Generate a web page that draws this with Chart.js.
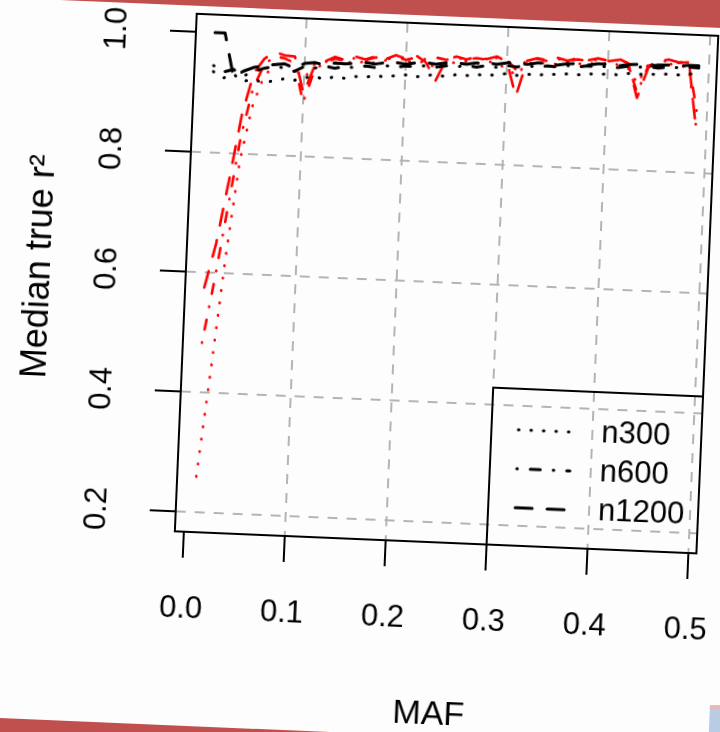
<!DOCTYPE html>
<html>
<head>
<meta charset="utf-8">
<title>Median true r2 by MAF</title>
<script src="https://cdn.jsdelivr.net/npm/chart.js@4.4.1/dist/chart.umd.min.js"></script>
<style>
  html, body { margin: 0; padding: 0; background: #fdfdfd; overflow: hidden; width: 720px; height: 732px; }
  /* the whole slide sits slightly tilted */
  #slide { position: absolute; left: 0; top: 0; width: 720px; height: 732px;
           transform: rotate(2.42deg); transform-origin: 360px 366px; }
  .bar { position: absolute; background: #c0504d; }
  #bar-top { left: -140px; top: -60px; width: 1000px; height: 73px; }
  #bar-bottom { left: -140px; top: 733px; width: 1000px; height: 60px; }
  #corner { position: absolute; left: 724px; top: 690px; width: 80px; height: 80px;
            background: #b9cce4; border-top: 4px solid #e6b9b8; }
  canvas { position: absolute; left: 0; top: 0; }
</style>
</head>
<body>
<div id="slide">
  <div class="bar" id="bar-top"></div>
  <div class="bar" id="bar-bottom"></div>
  <div id="corner"></div>
  <canvas id="chart" width="720" height="732"></canvas>
</div>
<script>
// ---- data ----------------------------------------------------------
const maf = [0.01, 0.02, 0.03, 0.04, 0.05, 0.06, 0.07, 0.08, 0.09, 0.10,
             0.11, 0.12, 0.13, 0.14, 0.15, 0.16, 0.17, 0.18, 0.19, 0.20,
             0.21, 0.22, 0.23, 0.24, 0.25, 0.26, 0.27, 0.28, 0.29, 0.30,
             0.31, 0.32, 0.33, 0.34, 0.35, 0.36, 0.37, 0.38, 0.39, 0.40,
             0.41, 0.42, 0.43, 0.44, 0.45, 0.46, 0.47, 0.48, 0.49];

// black curves
const blackN300 = [0.935, 0.925, 0.932, 0.921, 0.925, 0.920, 0.924, 0.928, 0.926, 0.931,
                   0.934, 0.930, 0.935, 0.933, 0.937, 0.936, 0.940, 0.938, 0.941, 0.943,
                   0.940, 0.944, 0.945, 0.943, 0.947, 0.946, 0.949, 0.947, 0.950, 0.952,
                   0.950, 0.953, 0.951, 0.955, 0.954, 0.956, 0.955, 0.958, 0.957, 0.959,
                   0.958, 0.961, 0.960, 0.962, 0.961, 0.963, 0.962, 0.965, 0.964];
const blackN600 = [0.945, 0.935, 0.940, 0.930, 0.938, 0.944, 0.948, 0.946, 0.941, 0.950,
                   0.948, 0.952, 0.949, 0.953, 0.951, 0.955, 0.953, 0.957, 0.955, 0.958,
                   0.957, 0.960, 0.958, 0.961, 0.960, 0.963, 0.961, 0.964, 0.962, 0.966,
                   0.964, 0.967, 0.965, 0.968, 0.967, 0.970, 0.968, 0.971, 0.969, 0.972,
                   0.970, 0.973, 0.972, 0.974, 0.972, 0.975, 0.974, 0.976, 0.975];
const blackN1200 = [1.000, 1.000, 0.928, 0.938, 0.945, 0.948, 0.951, 0.953, 0.946, 0.955,
                    0.957, 0.954, 0.958, 0.957, 0.959, 0.961, 0.959, 0.962, 0.963, 0.961,
                    0.964, 0.965, 0.963, 0.966, 0.967, 0.965, 0.968, 0.969, 0.967, 0.970,
                    0.971, 0.969, 0.972, 0.972, 0.970, 0.973, 0.974, 0.972, 0.975, 0.975,
                    0.973, 0.976, 0.977, 0.975, 0.977, 0.978, 0.976, 0.979, 0.979];

// red curves
const redN300 = [0.260, 0.440, 0.630, 0.790, 0.880, 0.930, 0.950, 0.955, 0.945, 0.930,
                 0.955, 0.960, 0.955, 0.962, 0.957, 0.964, 0.960, 0.966, 0.962, 0.967,
                 0.963, 0.968, 0.955, 0.968, 0.966, 0.970, 0.967, 0.971, 0.969, 0.960,
                 0.950, 0.972, 0.970, 0.974, 0.971, 0.975, 0.973, 0.976, 0.974, 0.977,
                 0.975, 0.970, 0.945, 0.978, 0.976, 0.980, 0.978, 0.975, 0.875];
const redN600 = [0.483, 0.590, 0.710, 0.830, 0.910, 0.950, 0.965, 0.962, 0.955, 0.890,
                 0.945, 0.958, 0.965, 0.962, 0.968, 0.965, 0.970, 0.967, 0.972, 0.968,
                 0.973, 0.970, 0.974, 0.971, 0.975, 0.973, 0.976, 0.974, 0.978, 0.975,
                 0.958, 0.977, 0.979, 0.976, 0.980, 0.978, 0.981, 0.979, 0.982, 0.980,
                 0.983, 0.975, 0.930, 0.975, 0.983, 0.985, 0.982, 0.984, 0.900];
const redN1200 = [0.575, 0.650, 0.755, 0.865, 0.935, 0.960, 0.972, 0.967, 0.966, 0.905,
                  0.952, 0.960, 0.968, 0.963, 0.970, 0.966, 0.972, 0.968, 0.975, 0.970,
                  0.976, 0.965, 0.935, 0.972, 0.977, 0.973, 0.978, 0.975, 0.980, 0.972,
                  0.915, 0.975, 0.980, 0.977, 0.982, 0.978, 0.983, 0.980, 0.984, 0.981,
                  0.985, 0.978, 0.921, 0.972, 0.984, 0.987, 0.983, 0.985, 0.870];

const xTicks = [0.0, 0.1, 0.2, 0.3, 0.4, 0.5];
const yTicks = [0.2, 0.4, 0.6, 0.8, 1.0];
const legendLabels = ["n300", "n600", "n1200"];

// ---- line styles (R lty look-alikes) -------------------------------
const DOTTED = [0.5, 12];
const DOTDASH = [0.5, 13, 10, 13];
const DASHED = [17, 15];
const FONT = '"Liberation Sans", Arial, sans-serif';

function series(values, color, dash, width) {
  return {
    data: maf.map((x, i) => ({ x: x, y: values[i] })),
    borderColor: color,
    borderWidth: width,
    borderDash: dash,
    borderCapStyle: "round",
    borderJoinStyle: "round",
    pointRadius: 0,
    tension: 0,
    fill: false,
  };
}

// legend box in the bottom-right corner plus the frame around the plot
const boxLegend = {
  id: "boxLegend",
  afterDraw(chart) {
    const { ctx, chartArea: a } = chart;
    const w = 210, h = 157;
    const left = a.right - w, top = a.bottom - h;
    ctx.save();
    ctx.strokeStyle = "#000";
    ctx.lineWidth = 2;
    ctx.strokeRect(left, top, w, h);
    ctx.font = "31px " + FONT;
    ctx.textBaseline = "middle";
    legendLabels.forEach((label, i) => {
      const ds = chart.data.datasets[i];
      const y = top + 41 + i * 39;
      ctx.setLineDash(ds.borderDash);
      ctx.lineCap = "round";
      ctx.lineWidth = ds.borderWidth;
      ctx.strokeStyle = ds.borderColor;
      ctx.beginPath();
      ctx.moveTo(left + 27, y);
      ctx.lineTo(left + 80, y);
      ctx.stroke();
      ctx.setLineDash([]);
      ctx.fillStyle = "#000";
      ctx.fillText(label, left + 110, y);
    });
    ctx.strokeStyle = "#000";
    ctx.lineWidth = 2;
    ctx.strokeRect(a.left, a.top, a.width, a.height);
    ctx.restore();
  },
};

const gridColor = (edge) => (ctx) => (ctx.tick && ctx.tick.value === edge ? "rgba(0,0,0,0)" : "#b4b4b4");

// fixed axis sizes, no extra room for overhanging labels
function fixSize(prop, size) {
  return (s) => {
    s[prop] = size;
    s.paddingTop = 0; s.paddingBottom = 0; s.paddingLeft = 0; s.paddingRight = 0;
  };
}

new Chart(document.getElementById("chart"), {
  type: "line",
  data: {
    datasets: [
      series(blackN300, "#000000", DOTTED, 3),
      series(blackN600, "#000000", DOTDASH, 3),
      series(blackN1200, "#000000", DASHED, 3),
      series(redN300, "#ff0000", DOTTED, 2.6),
      series(redN600, "#ff0000", DOTDASH, 2.6),
      series(redN1200, "#ff0000", DASHED, 2.6),
    ],
  },
  options: {
    responsive: false,
    animation: false,
    layout: { padding: { left: 0, top: 21, right: 16, bottom: 0 } },
    plugins: { legend: { display: false }, tooltip: { enabled: false } },
    scales: {
      x: {
        type: "linear",
        min: -0.0089,
        max: 0.5079,
        afterBuildTicks: (s) => { s.ticks = xTicks.map((v) => ({ value: v })); },
        afterFit: fixSize("height", 193),
        border: { display: false, dash: [10, 9] },
        grid: { color: gridColor(0), lineWidth: 2, tickLength: 26, tickColor: "#000", tickWidth: 2 },
        ticks: {
          autoSkip: false, maxRotation: 0, padding: 33, color: "#000",
          font: { family: FONT, size: 31 },
          callback: (v) => Number(v).toFixed(1),
        },
        title: { display: true, text: "MAF", color: "#000", font: { family: FONT, size: 34 }, padding: { top: 0, bottom: 0 } },
      },
      y: {
        type: "linear",
        min: 0.1674,
        max: 1.03,
        afterBuildTicks: (s) => { s.ticks = yTicks.map((v) => ({ value: v })); },
        afterFit: fixSize("width", 182),
        border: { display: false, dash: [10, 9] },
        grid: { color: gridColor(1), lineWidth: 2, tickLength: 26, tickColor: "#000", tickWidth: 2 },
        ticks: {
          autoSkip: false, minRotation: 90, maxRotation: 90, crossAlign: "center", padding: 31, color: "#000",
          font: { family: FONT, size: 31 },
          callback: (v) => Number(v).toFixed(1),
        },
        title: { display: true, text: "Median true r²", color: "#000", font: { family: FONT, size: 36 }, padding: { top: 14, bottom: 0 } },
      },
    },
  },
  plugins: [boxLegend],
});
</script>
</body>
</html>
